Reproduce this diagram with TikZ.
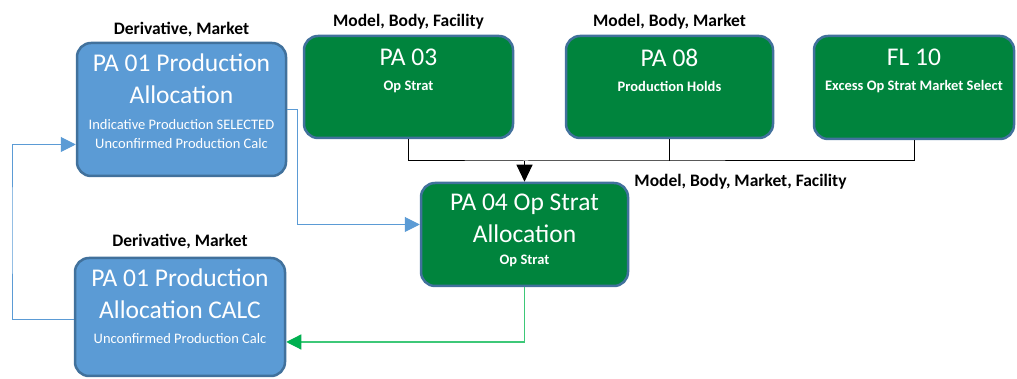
\documentclass[tikz,border=0pt]{standalone}
\usepackage{fontspec}
\setmainfont{Carlito}
\usetikzlibrary{positioning, arrows.meta}
\definecolor{boxblue}{HTML}{5B9BD5}
\definecolor{edgeblue}{HTML}{41719C}
\definecolor{boxgreen}{HTML}{00843D}
\definecolor{linkblue}{HTML}{5B9BD5}
\definecolor{linkgreen}{HTML}{3DC878}
\definecolor{tipgreen}{HTML}{00B050}
\newcommand{\blueinfo}{\fontsize{14.5}{19}\selectfont}
\newcommand{\greeninfo}{\bfseries\fontsize{14.5}{17}\selectfont}

\begin{document}
\begin{tikzpicture}[
    x=1pt, y=1pt,
    node distance=5pt,
    every node/.style={inner sep=0pt, align=center},
    bluebox/.style={draw=edgeblue, line width=2.5pt, fill=boxblue, rounded corners=14pt},
    greenbox/.style={draw=edgeblue, line width=2.5pt, fill=boxgreen, rounded corners=14pt},
    boxtext/.style={text=white, font=\fontsize{25.5}{32}\selectfont},
    tag/.style={font=\bfseries\fontsize{17.5}{20}\selectfont},
    feed/.style={draw=black, line width=1pt},
    bluelink/.style={draw=linkblue, line width=1pt, -{Triangle[width=15pt,length=15pt]}},
    greenlink/.style={draw=linkgreen, line width=1.2pt, -{Triangle[width=15pt,length=15pt,color=tipgreen]}}
]
\useasboundingbox (0,0) rectangle (1017,379);

\node[bluebox, minimum width=209pt, minimum height=133pt] (pa01a) at (181.5,269.5) {};
\node[bluebox, minimum width=210pt, minimum height=118pt] (pa01c) at (180,62) {};
\node[greenbox, minimum width=209pt, minimum height=102pt] (pa03) at (408.5,292) {};
\node[greenbox, minimum width=207pt, minimum height=102pt] (pa08) at (669.5,292) {};
\node[greenbox, minimum width=200pt, minimum height=103pt] (fl10) at (914,291.5) {};
\node[greenbox, minimum width=207pt, minimum height=103pt] (pa04) at (524.5,144.5) {};

\node[boxtext, below=12pt of pa01a.north] (pa01a-txt) {PA 01 Production\\Allocation\\[-6pt]\blueinfo Indicative Production SELECTED\\[-13pt]\blueinfo Unconfirmed Production Calc};
\node[boxtext, below=12pt of pa01c.north] (pa01c-txt) {PA 01 Production\\Allocation CALC\\[-7pt]\blueinfo Unconfirmed Production Calc};
\node[boxtext, below=14pt of pa03.north] (pa03-txt) {PA 03\\[-7pt]\greeninfo Op Strat};
\node[boxtext, below=14pt of pa08.north] (pa08-txt) {PA 08\\[-7pt]\greeninfo Production Holds};
\node[boxtext, below=14pt of fl10.north] (fl10-txt) {FL 10\\[-7pt]\greeninfo Excess Op Strat Market Select};
\node[boxtext, below=12pt of pa04.north] (pa04-txt) {PA 04 Op Strat\\Allocation\\[-10pt]\greeninfo Op Strat};

\node[tag, above=5pt of pa01a] (tag01a) {Derivative, Market};
\node[tag, above=8pt of pa01c] (tag01c) {Derivative, Market};
\node[tag, above=5pt of pa03] (tag03) {Model, Body, Facility};
\node[tag, above=5pt of pa08] (tag08) {Model, Body, Market};
\node[tag, right=5pt of pa04.north east] (tag04) {Model, Body, Market, Facility};

\coordinate (bus) at (524.5,218);
\coordinate (loop) at (12,150);

\draw[feed] (pa03.south) |- (bus) -| (fl10.south);
\draw[feed] (pa08.south) -- (pa08.south |- bus);
\draw[feed, -{Triangle[width=16pt,length=17pt]}] (bus) -- (pa04.north);
\draw[bluelink] (pa01a.east) -- ++(10,0) |- ([yshift=10pt]pa04.west);
\draw[bluelink] ([yshift=-3pt]pa01c.west) -| (loop) |- ([yshift=-35pt]pa01a.west);
\draw[greenlink] (pa04.south) |- ([yshift=-25pt]pa01c.east);

\end{tikzpicture}
\end{document}
